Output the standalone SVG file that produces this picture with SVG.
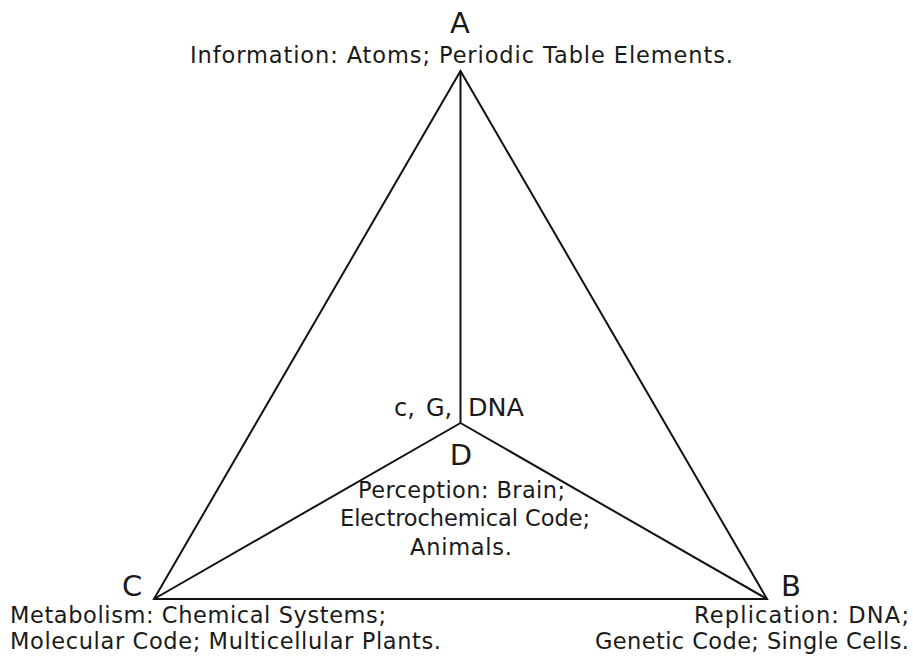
<svg xmlns="http://www.w3.org/2000/svg" width="913" height="661" viewBox="0 0 913 661">
<style>
text{font-family:"DejaVu Sans","Liberation Sans",sans-serif;fill:#1a1a1a}
.t{font-size:22.5px}
.m{font-size:24px}
.big{font-size:29px;text-anchor:middle}
.ln{stroke:#111;stroke-width:2;fill:none;stroke-linejoin:miter}
</style>
<rect width="913" height="661" fill="#fff"/>
<g id="connectors">
<polygon class="ln" points="460.5,71 767,599 154,599"/>
<line class="ln" x1="460.5" y1="71" x2="460.5" y2="423"/>
<line class="ln" x1="460.5" y1="423" x2="154" y2="599"/>
<line class="ln" x1="460.5" y1="423" x2="767" y2="599"/>
</g>
<g id="A">
<text class="big" x="460" y="33">A</text>
<text class="t" x="190" y="63" textLength="543" lengthAdjust="spacing">Information:  Atoms; Periodic Table Elements.</text>
</g>
<g id="D">
<text class="m" x="394" y="416">c,</text>
<text class="m" x="426" y="416">G,</text>
<text class="m" x="468" y="416" textLength="56" lengthAdjust="spacingAndGlyphs">DNA</text>
<text class="big" x="461" y="465">D</text>
<text class="t" x="358" y="498" textLength="207" lengthAdjust="spacing">Perception: Brain;</text>
<text class="t" x="340" y="526" textLength="250" lengthAdjust="spacing">Electrochemical Code;</text>
<text class="t" x="410" y="555" textLength="102" lengthAdjust="spacing">Animals.</text>
</g>
<g id="C">
<text class="big" x="132" y="596">C</text>
<text class="t" x="10" y="623" textLength="376" lengthAdjust="spacing">Metabolism: Chemical Systems;</text>
<text class="t" x="10" y="649" textLength="431" lengthAdjust="spacing">Molecular Code; Multicellular Plants.</text>
</g>
<g id="B">
<text class="big" x="791" y="596">B</text>
<text class="t" x="694" y="623" textLength="215" lengthAdjust="spacing">Replication: DNA;</text>
<text class="t" x="595" y="649" textLength="314" lengthAdjust="spacing">Genetic Code; Single Cells.</text>
</g>
</svg>
